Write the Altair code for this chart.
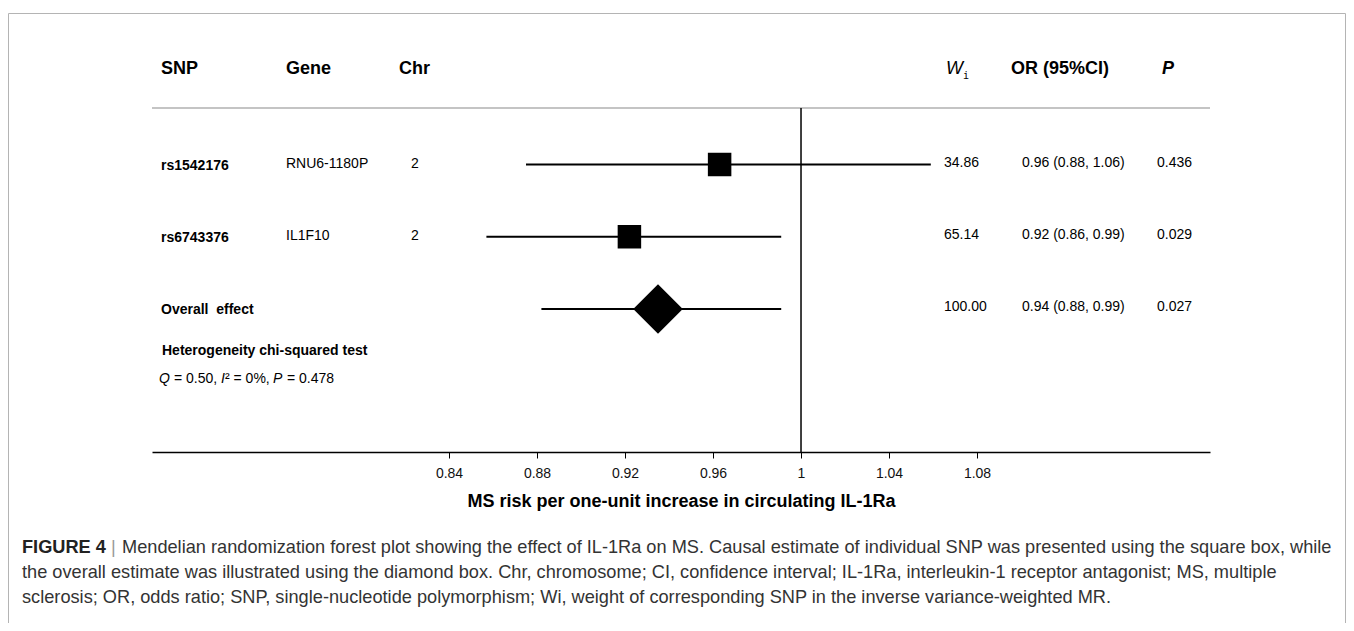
import altair as alt
import pandas as pd

FONT = "Liberation Sans"

# ---- data ----
rows = [1, 2, 3]
snps = ["rs1542176", "rs6743376", "Overall\u00a0 effect"]
genes = ["RNU6-1180P", "IL1F10", ""]
chrs = ["2", "2", ""]
kinds = ["SNP", "SNP", "Overall"]
estimates = [0.963, 0.922, 0.935]
lower = [0.875, 0.857, 0.882]
upper = [1.059, 0.991, 0.991]
weights = ["34.86", "65.14", "100.00"]
or_labels = ["0.96 (0.88, 1.06)", "0.92 (0.86, 0.99)", "0.94 (0.88, 0.99)"]
p_values = ["0.436", "0.029", "0.027"]

tick_values = [0.84, 0.88, 0.92, 0.96, 1.0, 1.04, 1.08]
null_value = [1.0]

header_snp = "SNP"
header_gene = "Gene"
header_chr = "Chr"
header_w = "W"
header_w_sub = "i"
header_or = "OR (95%CI)"
header_p = "P"

het_title = "Heterogeneity chi-squared test"
het_parts = ["Q", "= 0.50,", "I", "² = 0%,", "P", "= 0.478"]
axis_title = "MS risk per one-unit increase in circulating IL-1Ra"

cap_bold = "FIGURE 4"
cap_bar = "|"
cap_line1 = ("Mendelian randomization forest plot showing the effect of IL-1Ra on MS. "
             "Causal estimate of individual SNP was presented using the square box, while")
cap_line2 = ("the overall estimate was illustrated using the diamond box. Chr, chromosome; "
             "CI, confidence interval; IL-1Ra, interleukin-1 receptor antagonist; MS, multiple")
cap_line3 = ("sclerosis; OR, odds ratio; SNP, single-nucleotide polymorphism; Wi, weight of "
             "corresponding SNP in the inverse variance-weighted MR.")

df = pd.DataFrame({
    "row": rows, "snp": snps, "gene": genes, "chr": chrs, "kind": kinds,
    "est": estimates, "low": lower, "high": upper,
    "w": weights, "ortxt": or_labels, "p": p_values,
})
one = pd.DataFrame({"v": null_value})

# ---- scales ----
W, H = 1338, 615
AXIS_Y = 444
xs = alt.Scale(domain=[0.705, 1.1859], range=[144, 1202], nice=False, zero=False)
ys = alt.Scale(domain=[1, 3], range=[156.5, 301])
x_axis = alt.Axis(
    values=tick_values, format=".2~f", title=axis_title, orient="bottom",
    offset=AXIS_Y - H, grid=False,
    domainColor="black", domainWidth=1.5, tickColor="black", tickWidth=1, tickSize=6,
    labelFont=FONT, labelFontSize=14, labelColor="#111", labelPadding=8,
    labelOverlap=False, labelFlush=False,
    titleFont=FONT, titleFontSize=18, titleFontWeight="bold", titleColor="black",
    titlePadding=12,
)
y_enc = alt.Y("row:Q", scale=ys, axis=None)


def label(text, x, y, size=14, weight="normal", style="normal", color="black",
          align="left", font=FONT):
    return alt.Chart(one).mark_text(
        align=align, baseline="middle", fontSize=size, fontWeight=weight,
        fontStyle=style, color=color, font=font,
    ).encode(x=alt.value(x), y=alt.value(y), text=alt.value(text))


border = alt.Chart(one).mark_rect(
    fillOpacity=0, stroke="#b4b4b4", strokeWidth=1
).encode(x=alt.value(0.5), x2=alt.value(1337.5), y=alt.value(5.5), y2=alt.value(720))

header_line = alt.Chart(one).mark_rule(color="#c4c4c4", strokeWidth=2).encode(
    x=alt.value(144), x2=alt.value(1202), y=alt.value(100)
)

null_line = alt.Chart(one).mark_rule(color="black", strokeWidth=1.5).encode(
    x=alt.X("v:Q", scale=xs, axis=x_axis), y=alt.value(100), y2=alt.value(AXIS_Y)
)

base = alt.Chart(df)
ci = base.mark_rule(color="black", strokeWidth=2).encode(
    x=alt.X("low:Q", scale=xs, axis=x_axis), x2="high:Q", y=y_enc
)
squares = base.transform_filter(alt.datum.kind == "SNP").mark_point(
    shape="square", filled=True, size=552, color="black", opacity=1, strokeWidth=0
).encode(x=alt.X("est:Q", scale=xs, axis=x_axis), y=y_enc)
diamond = base.transform_filter(alt.datum.kind == "Overall").mark_point(
    shape="diamond", filled=True, size=2450, color="black", opacity=1, strokeWidth=0
).encode(x=alt.X("est:Q", scale=xs, axis=x_axis), y=y_enc)


def col_text(field, x, weight="normal", dy=0):
    return base.mark_text(
        align="left", baseline="middle", fontSize=14, fontWeight=weight,
        font=FONT, color="black", dy=dy,
    ).encode(x=alt.value(x), y=y_enc, text=f"{field}:N")


texts = [
    col_text("snp", 153, "bold", 1),
    col_text("gene", 278, dy=-1),
    col_text("chr", 403, dy=-1),
    col_text("w", 936, dy=-2),
    col_text("ortxt", 1014, dy=-2),
    col_text("p", 1149, dy=-2),
]

HY = 61
headers = [
    label(header_snp, 153, HY, 18, "bold"),
    label(header_gene, 278, HY, 18, "bold"),
    label(header_chr, 391, HY, 18, "bold"),
    label(header_w, 938, HY, 18, "normal", "italic"),
    label(header_w_sub, 955, HY + 7, 10, font="DejaVu Sans Mono"),
    label(header_or, 1003, HY, 18, "bold"),
    label(header_p, 1154, HY, 18, "bold", "italic"),
]

QY = 371
het = [
    label(het_title, 154, 343, 14, "bold"),
    label(het_parts[0], 151, QY, 14, style="italic"),
    label(het_parts[1], 166, QY, 14),
    label(het_parts[2], 213, QY, 14, style="italic"),
    label(het_parts[3], 217, QY, 14),
    label(het_parts[4], 265, QY, 14, style="italic"),
    label(het_parts[5], 279, QY, 14),
]

CAP = 18.2
caption = [
    label(cap_bold, 14, 540, CAP, "bold", color="#222"),
    label(cap_bar, 103, 540, CAP, color="#999"),
    label(cap_line1, 114, 540, CAP, color="#333"),
    label(cap_line2, 14, 565, CAP, color="#333"),
    label(cap_line3, 14, 590, CAP, color="#333"),
]

chart = alt.layer(
    border, header_line, ci, null_line, squares, diamond,
    *texts, *headers, *het, *caption,
).properties(
    width=W, height=H,
    autosize=alt.AutoSizeParams(type="none"),
    padding=0,
    background="white",
).configure_view(strokeWidth=0)

chart.save("out.html", embed_options={"renderer": "svg", "actions": False})
